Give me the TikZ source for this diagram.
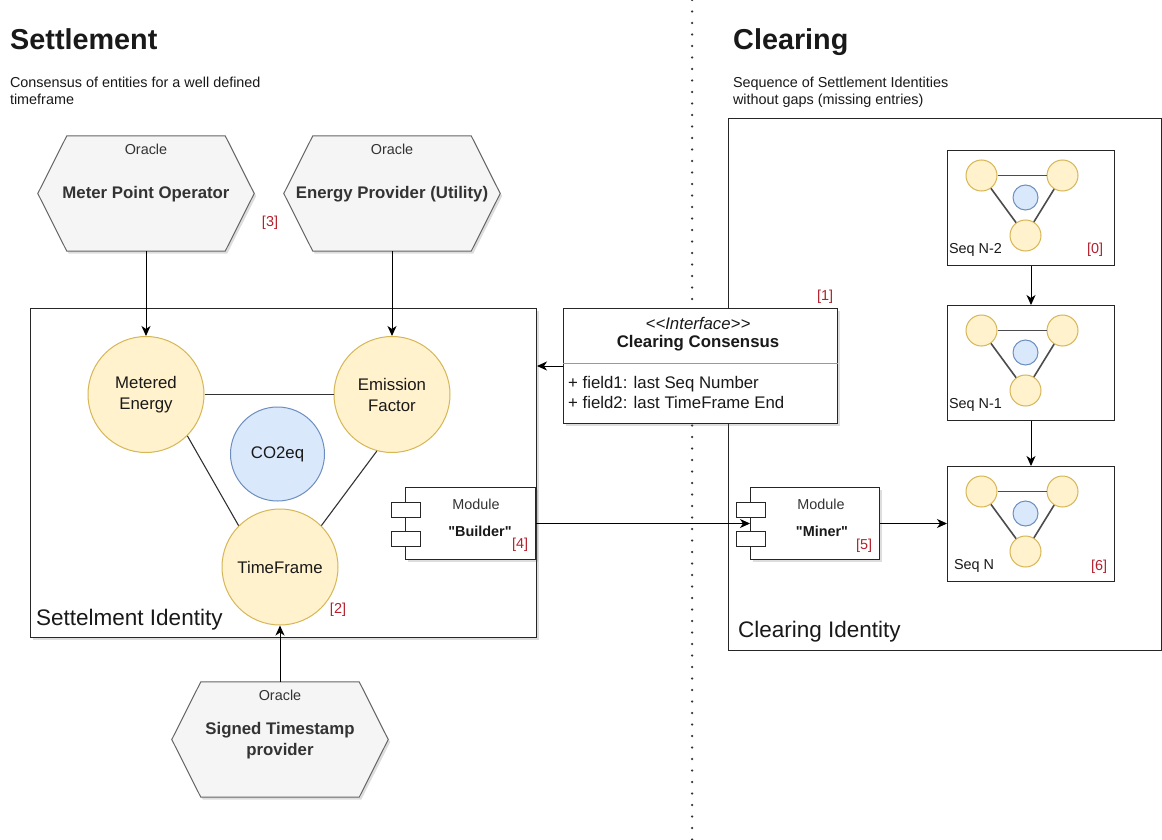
\documentclass[tikz,border=0pt]{standalone}
\usepackage{fontspec}
\setmainfont{Liberation Sans}[Ligatures=TeXOff]
\usetikzlibrary{arrows.meta,shadows,calc}
\definecolor{yelF}{HTML}{FFF2CC}
\definecolor{yelD}{HTML}{D6B656}
\definecolor{bluF}{HTML}{DAE8FC}
\definecolor{bluD}{HTML}{6C8EBF}
\definecolor{hexF}{HTML}{F5F5F5}
\definecolor{hexD}{HTML}{666666}
\definecolor{txtG}{HTML}{333333}
\definecolor{refR}{HTML}{B5202E}
\newcommand\fzS{\fontsize{14.4pt}{17pt}\selectfont}
\newcommand\fzM{\fontsize{16.8pt}{21pt}\selectfont}
\newcommand\fzL{\fontsize{22.5pt}{27pt}\selectfont}
\newcommand\fzT{\fontsize{28.8pt}{34pt}\selectfont}
\tikzset{
  plaintxt/.style={inner sep=0pt, outer sep=0pt, text=black!90, font=\fzS},
  refnum/.style={inner sep=0pt, font=\fzS, text=refR},
  softshadow/.style={drop shadow={shadow xshift=2pt, shadow yshift=-2.5pt, opacity=0.22, fill=black!60}},
  hexbox/.style={inner sep=0pt, minimum width=216pt, minimum height=115pt},
  hexfill/.style={fill=hexF, draw=hexD, line width=1pt, softshadow},
  hexhead/.style={inner sep=0pt, font=\fzS, text=txtG},
  hexname/.style={inner sep=0pt, font=\fzM\bfseries, text=txtG, align=center},
  ycirc/.style={circle, draw=yelD, fill=yelF, line width=1pt, inner sep=0pt, align=center, font=\fzM, text=black!90},
  bcirc/.style={circle, draw=bluD, fill=bluF, line width=1pt, inner sep=0pt, align=center, font=\fzM, text=black!90},
  boxline/.style={draw=black!85, line width=1pt, fill=white, inner sep=0pt},
  cline/.style={draw=black!80, line width=1.1pt},
  seqline/.style={draw=black!70, line width=1.6pt},
  arr/.style={draw=black, line width=1pt, -{Stealth[length=10pt,width=9pt,inset=3pt]}},
  comptab/.style={boxline, minimum width=29pt, minimum height=15pt, anchor=north west},
}
\newcommand\hexpath[1]{\path[hexfill] (#1.west) -- ([xshift=29pt]#1.north west) -- ([xshift=-29pt]#1.north east) -- (#1.east) -- ([xshift=-29pt]#1.south east) -- ([xshift=29pt]#1.south west) -- cycle;}
\newcommand\seqdots[1]{%
  \node[ycirc, minimum size=31pt] (#1a) at ($(#1.north west)+(34.5,25.5)$) {};
  \node[ycirc, minimum size=31pt] (#1b) at ($(#1.north west)+(115.5,25.5)$) {};
  \node[ycirc, minimum size=31pt] (#1c) at ($(#1.north west)+(78.5,85.5)$) {};
  \node[bcirc, minimum size=25pt] (#1d) at ($(#1.north west)+(78.5,47.5)$) {};
  \draw[seqline] (#1a) -- (#1b);
  \draw[seqline] (#1a) -- (#1c);
  \draw[seqline] (#1b) -- (#1c);
}
\begin{document}
\begin{tikzpicture}[x=1pt,y=-1pt]
\fill[white] (0,0) rectangle (1162,840);
\useasboundingbox (0,0) rectangle (1162,840);

% divider
\coordinate (dvT) at (692,0);
\coordinate (dvB) at (692,840);
\draw[black!80, line width=2.5pt, dash pattern=on 0pt off 11.5pt, line cap=round] (dvT) -- (dvB);

% titles
\node[inner sep=0pt, anchor=base west, font=\fzT\bfseries, text=black!90] (tS) at (10,50) {Settlement};
\node[plaintxt, anchor=base west] (sS1) at (10,88) {Consensus of entities for a well defined};
\node[plaintxt, anchor=base west] (sS2) at (10,105) {timeframe};
\node[inner sep=0pt, anchor=base west, font=\fzT\bfseries, text=black!90] (tC) at (733,50) {Clearing};
\node[plaintxt, anchor=base west] (sC1) at (733,88) {Sequence of Settlement Identities};
\node[plaintxt, anchor=base west] (sC2) at (733,105) {without gaps (missing entries)};

% oracles
\node[hexbox] (mpo) at (146,193.5) {};
\hexpath{mpo}
\node[hexhead] (mpoO) at ($(mpo.north)+(0,14)$) {Oracle};
\node[hexname] (mpoN) at ($(mpo.center)+(0,1)$) {Meter Point Operator};
\node[refnum] (r3) at (270,223) {[3]};

\node[hexbox] (epu) at (392,193.5) {};
\hexpath{epu}
\node[hexhead] (epuO) at ($(epu.north)+(0,14)$) {Oracle};
\node[hexname] (epuN) at ($(epu.center)+(0,1)$) {Energy Provider (Utility)};

\node[hexbox] (sts) at (280,739.5) {};
\hexpath{sts}
\node[hexhead] (stsO) at ($(sts.north)+(0,14)$) {Oracle};
\node[hexname] (stsN) at ($(sts.center)+(0,1)$) {Signed Timestamp\\provider};

% settlement identity
\node[boxline, softshadow, minimum width=506pt, minimum height=329pt, anchor=north west] (sid) at (30,308) {};
\node[inner sep=0pt, anchor=west, font=\fzL, text=black!90] (sidL) at (36,620) {Settelment Identity};

\node[ycirc, minimum size=116pt] (me) at (146,394.5) {Metered\\Energy};
\node[ycirc, minimum size=116pt] (ef) at (392,394.5) {Emission\\Factor};
\node[bcirc, minimum size=94pt] (co2) at (277.5,454) {CO2eq};
\node[ycirc, minimum size=116pt] (tf) at (280,567) {TimeFrame};
\draw[cline] (me.east) -- (ef.west);
\draw[cline] (me.-45) -- (tf.135);
\draw[cline] (ef.-105) -- (tf.45);
\node[refnum] (r2) at (338,610) {[2]};

% builder module
\node[boxline, softshadow, minimum width=130pt, minimum height=72pt, anchor=north west] (bld) at (405,487) {};
\node[comptab] (bldT1) at (391,502) {};
\node[comptab] (bldT2) at (391,531) {};
\node[hexhead] (bldM) at (476,504) {Module};
\node[inner sep=0pt, font=\fzS\bfseries, text=black!90] (bldN) at (480,531) {"Builder"};
\node[refnum] (r4) at (520,545) {[4]};

% clearing identity
\node[boxline, minimum width=433pt, minimum height=532pt, anchor=north west] (cid) at (728,118) {};
\node[inner sep=0pt, anchor=west, font=\fzL, text=black!90] (cidL) at (738,632) {Clearing Identity};

\node[boxline, minimum width=167pt, minimum height=115pt, anchor=north west] (sq2) at (947,150) {};
\seqdots{sq2}
\node[plaintxt, anchor=west] (sq2L) at (949,250) {Seq N-2};
\node[refnum] (r0) at (1095,250) {[0]};

\node[boxline, minimum width=167pt, minimum height=115pt, anchor=north west] (sq1) at (947,305) {};
\seqdots{sq1}
\node[plaintxt, anchor=west] (sq1L) at (949,405) {Seq N-1};

\node[boxline, minimum width=167pt, minimum height=115pt, anchor=north west] (sqN) at (947,466) {};
\seqdots{sqN}
\node[plaintxt, anchor=west] (sqNL) at (954,566) {Seq N};
\node[refnum] (r6) at (1099,567) {[6]};

% miner module
\node[boxline, softshadow, minimum width=129pt, minimum height=72pt, anchor=north west] (mnr) at (750,487) {};
\node[comptab] (mnrT1) at (736,502) {};
\node[comptab] (mnrT2) at (736,531) {};
\node[hexhead] (mnrM) at (821,504) {Module};
\node[inner sep=0pt, font=\fzS\bfseries, text=black!90] (mnrN) at (822,531) {"Miner"};
\node[refnum] (r5) at (864,546) {[5]};

% interface
\node[boxline, softshadow, minimum width=274pt, minimum height=115pt, anchor=north west] (ifc) at (563,308) {};
\draw[draw=black!40, line width=1pt] ($(ifc.north west)+(0,55)$) -- ($(ifc.north east)+(0,55)$);
\node[inner sep=0pt, font=\fzM\itshape, text=black!90] (ifcS) at (698,323.5) {<<Interface>>};
\node[inner sep=0pt, font=\fzM\bfseries, text=black!90] (ifcN) at (698,343.5) {Clearing Consensus};
\node[inner sep=0pt, anchor=base west, font=\fzM, text=black!90] (ifcF1) at (568,388) {+ field1: last Seq Number};
\node[inner sep=0pt, anchor=base west, font=\fzM, text=black!90] (ifcF2) at (568,408) {+ field2: last TimeFrame End};
\node[refnum] (r1) at (825,297) {[1]};

% connectors
\draw[arr] (mpo.south) -- (me.north);
\draw[arr] (epu.south) -- (ef.north);
\draw[arr] (sts.north) -- (tf.south);
\draw[arr] (ifc.west) -- (ifc.west -| sid.east);
\draw[arr] (bld.east) -- (mnr.west);
\draw[arr] (mnr.east) -- (mnr.east -| sqN.west);
\draw[arr] (sq2.south) -- (sq1.north);
\draw[arr] (sq1.south) -- (sqN.north);
\end{tikzpicture}
\end{document}
